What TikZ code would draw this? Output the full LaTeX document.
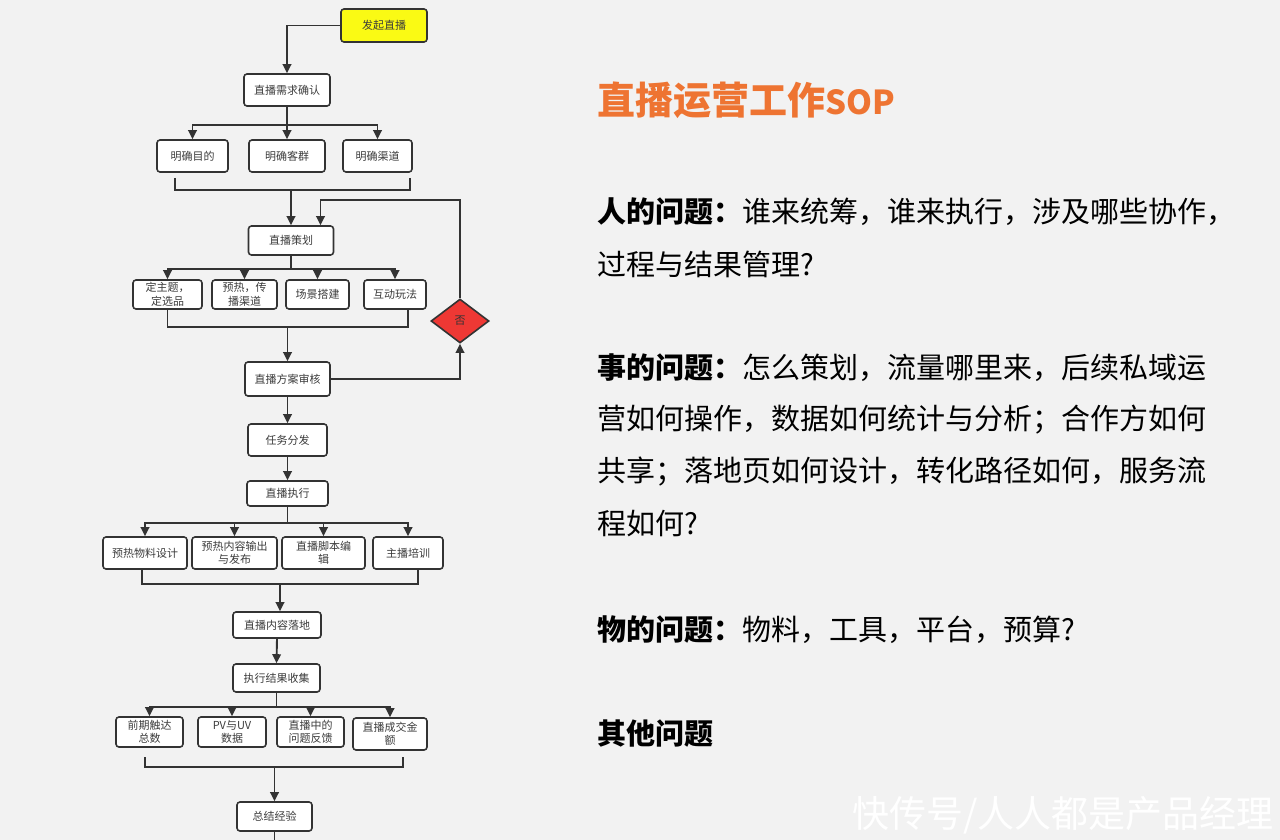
\documentclass[tikz,border=0pt]{standalone}
\usepackage{fontspec}
\newfontfamily\cjk{Noto Sans CJK SC}
\usetikzlibrary{arrows.meta,shapes.geometric,calc}
\definecolor{bg}{RGB}{242,242,242}
\definecolor{ln}{RGB}{51,51,51}
\definecolor{boxtxt}{RGB}{60,60,60}
\definecolor{ttl}{RGB}{238,116,50}
\definecolor{ylw}{RGB}{250,250,20}
\definecolor{dred}{RGB}{238,56,52}
\tikzset{
  box/.style={draw=ln, fill=white, line width=1.6pt, rounded corners=3pt,
    inner sep=0pt, align=center, text=boxtxt,
    font=\cjk\fontsize{11}{13.5}\selectfont},
  conn/.style={draw=ln, line width=1.9pt},
  arr/.style={conn, -{Triangle[length=9pt,width=8.5pt]}},
  side/.style={anchor=west, inner sep=0pt, text=black, font=\cjk\fontsize{29}{30}\selectfont},
}
\begin{document}
\begin{tikzpicture}[x=1pt,y=-1pt]
\path[fill=bg] (0,0) rectangle (1280,840);
\useasboundingbox (0,0) rectangle (1280,840);

% ---- flowchart nodes ----
\node[box, fill=ylw, minimum width=86pt, minimum height=33pt] (start) at (384,25.5) {发起直播};
\node[box, minimum width=86pt, minimum height=32pt] (req) at (287,90) {直播需求确认};
\node[box, minimum width=71pt, minimum height=32pt] (m1) at (192.5,156) {明确目的};
\node[box, minimum width=76pt, minimum height=32pt] (m2) at (287,156) {明确客群};
\node[box, minimum width=69pt, minimum height=32pt] (m3) at (377.5,156) {明确渠道};

\node[box, minimum width=85pt, minimum height=29pt] (plan) at (291,240.5) {直播策划};
\node[box, minimum width=69pt, minimum height=29pt] (p1) at (167.5,294.5) {定主题，\\定选品};
\node[box, minimum width=65pt, minimum height=29pt] (p2) at (244.5,294.5) {预热，传\\播渠道};
\node[box, minimum width=63pt, minimum height=29pt] (p3) at (317.5,294.5) {场景搭建};
\node[box, minimum width=62pt, minimum height=29pt] (p4) at (395,294.5) {互动玩法};

\node[draw=ln, fill=dred, line width=1.6pt, diamond, aspect=1.32, minimum width=58pt, minimum height=44pt,
      inner sep=0pt, text=ln, font=\cjk\fontsize{11}{13}\selectfont] (dia) at (460,321) {否};

\node[box, minimum width=85pt, minimum height=34pt] (review) at (287.5,379) {直播方案审核};
\node[box, minimum width=79pt, minimum height=32pt] (task) at (287.5,440) {任务分发};
\node[box, minimum width=81pt, minimum height=25pt] (exec) at (287.5,493.5) {直播执行};

\node[box, minimum width=84pt, minimum height=32pt] (e1) at (145,553) {预热物料设计};
\node[box, minimum width=85pt, minimum height=32pt] (e2) at (234.5,553) {预热内容输出\\与发布};
\node[box, minimum width=83pt, minimum height=32pt] (e3) at (323.5,553) {直播脚本编\\辑};
\node[box, minimum width=70pt, minimum height=32pt] (e4) at (408,553) {主播培训};

\node[box, minimum width=88pt, minimum height=26pt] (land) at (277,625) {直播内容落地};
\node[box, minimum width=87pt, minimum height=28pt] (collect) at (276.5,678) {执行结果收集};

\node[box, minimum width=67pt, minimum height=30pt] (r1) at (149.5,732) {前期触达\\总数};
\node[box, minimum width=68pt, minimum height=30pt] (r2) at (232,732) {PV与UV\\数据};
\node[box, minimum width=67pt, minimum height=30pt] (r3) at (310.5,732) {直播中的\\问题反馈};
\node[box, minimum width=74pt, minimum height=32pt] (r4) at (390,734) {直播成交金\\额};

\node[box, minimum width=75pt, minimum height=29pt] (sum) at (274.5,816.5) {总结经验};

% ---- connectors ----
\draw[arr] (start.west) -| (req.north);
\draw[arr] (req.south) -- ++(0,18) -| (m1.north);
\draw[arr] (req.south) -- ++(0,18) -| (m3.north);
\draw[arr] (req.south) -- (m2.north);

\coordinate (bA1) at (175,178);
\coordinate (bA2) at (410,178);
\coordinate (jA) at (291,190);
\draw[conn] (bA1) -- (bA1 |- jA) -- (bA2 |- jA) -- (bA2);
\draw[arr] (jA) -- (jA |- plan.north);

\draw[arr] (dia.north) -- ++(0,-98) -| ([xshift=29.5pt]plan.north);

\draw[arr] (plan.south) -- ++(0,13) -| (p1.north);
\draw[arr] (plan.south) -- ++(0,13) -| (p2.north);
\draw[arr] (plan.south) -- ++(0,13) -| (p3.north);
\draw[arr] (plan.south) -- ++(0,13) -| (p4.north);

\coordinate (bB1) at (167.5,309);
\coordinate (bB2) at (408,309);
\coordinate (jB) at (287.5,327);
\draw[conn] (bB1) -- (bB1 |- jB) -- (bB2 |- jB) -- (bB2);
\draw[arr] (jB) -- (jB |- review.north);

\draw[arr] (review.east) -| (dia.south);
\draw[arr] (review.south) -- (task.north);
\draw[arr] (task.south) -- (exec.north);

\draw[arr] (exec.south) -- ++(0,16) -| (e1.north);
\draw[arr] (exec.south) -- ++(0,16) -| (e2.north);
\draw[arr] (exec.south) -- ++(0,16) -| (e3.north);
\draw[arr] (exec.south) -- ++(0,16) -| (e4.north);

\coordinate (bC1) at (142,569);
\coordinate (bC2) at (418,569);
\coordinate (jC) at (280,584);
\draw[conn] (bC1) -- (bC1 |- jC) -- (bC2 |- jC) -- (bC2);
\draw[arr] (jC) -- (jC |- land.north);

\draw[arr] (land.south) -- (collect.north);

\draw[arr] (collect.south) -- ++(0,14) -| (r1.north);
\draw[arr] (collect.south) -- ++(0,14) -| (r2.north);
\draw[arr] (collect.south) -- ++(0,14) -| (r3.north);
\draw[arr] (collect.south) -- ++(0,14) -| (r4.north);

\coordinate (bD1) at (145,757);
\coordinate (bD2) at (403,757);
\coordinate (jD) at (274.5,767);
\draw[conn] (bD1) -- (bD1 |- jD) -- (bD2 |- jD) -- (bD2);
\draw[arr] (jD) -- (jD |- sum.north);

\coordinate (endc) at (274.5,842);
\draw[conn] (sum.south) -- (endc);

% ---- right-hand text ----
\node[anchor=west, inner sep=0pt, text=ttl, font=\cjk\bfseries\fontsize{38}{40}\selectfont] (title) at (597,100) {直播运营工作{\fontsize{33}{35}\selectfont SOP}};

\node[side] (l1) at (597,212) {{\bfseries 人的问题：}谁来统筹，谁来执行，涉及哪些协作，};
\node[side] (l2) at (597,264) {过程与结果管理?};
\node[side] (l3) at (597,368) {{\bfseries 事的问题：}怎么策划，流量哪里来，后续私域运};
\node[side] (l4) at (597,420) {营如何操作，数据如何统计与分析；合作方如何};
\node[side] (l5) at (597,472) {共享；落地页如何设计，转化路径如何，服务流};
\node[side] (l6) at (597,524) {程如何?};
\node[side] (l7) at (597,630) {{\bfseries 物的问题：}物料，工具，平台，预算?};
\node[side, font=\cjk\bfseries\fontsize{29}{30}\selectfont] (l8) at (597,734) {其他问题};

\node[anchor=east, inner sep=0pt, text=white, font=\cjk\fontsize{37}{40}\selectfont] (wm) at (1274,815) {快传号/人人都是产品经理};
\end{tikzpicture}
\end{document}
